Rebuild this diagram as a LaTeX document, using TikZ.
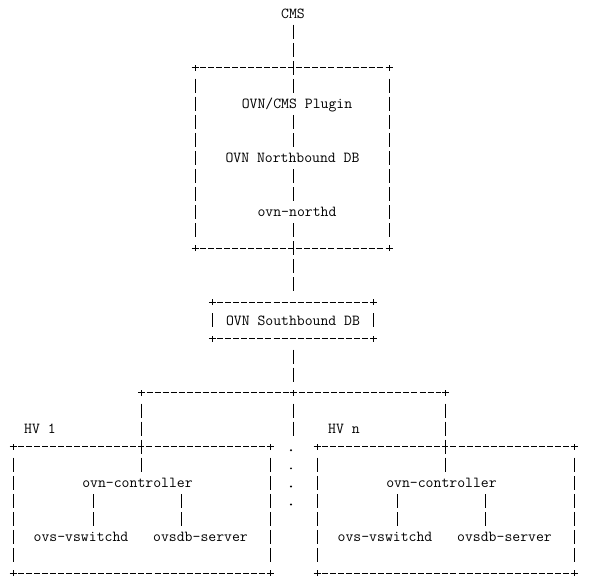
\documentclass[tikz,border=0pt]{standalone}
\usetikzlibrary{positioning}

\tikzset{
  txt/.style={font=\fontsize{15.3}{18}\selectfont\ttfamily, inner sep=0pt,
    text height=11pt, text depth=1.6pt, minimum height=18.05pt},
  hline/.style={line width=0.9pt, dash pattern=on 6pt off 2.03pt,
    shorten <=5pt, shorten >=5pt},
  vbar/.style={line width=0.9pt, dash pattern=on 14pt off 4.05pt, dash phase=16.05pt},
  vside/.style={vbar, shorten <=9.025pt, shorten >=9.025pt},
  crosspt/.pic={\draw[line width=0.9pt] (-3.5pt,0) -- (3.5pt,0) (0,-3pt) -- (0,3pt);}
}

% frame drawn with dashes, bars and plus corners
\newcommand{\asciibox}[2]{%
  \draw[hline] (#1) -- (#1 -| #2);
  \draw[hline] (#1 |- #2) -- (#2);
  \draw[vside] (#1) -- (#1 |- #2);
  \draw[vside] (#1 -| #2) -- (#2);
  \pic at (#1) {crosspt};
  \pic at (#1 -| #2) {crosspt};
  \pic at (#1 |- #2) {crosspt};
  \pic at (#2) {crosspt};
}

\begin{document}
\begin{tikzpicture}[x=1pt, y={(0pt,-18.05pt)}]
  \useasboundingbox (0,-0.748) rectangle (594,31.607);

  % central part
  \node[txt] (cms) at (293,0) {CMS};
  \node[txt] (plugin) at (297,5) {OVN/CMS Plugin};
  \node[txt] (nbdb) at (292.5,8) {OVN Northbound DB};
  \node[txt] (northd) at (297,11) {ovn-northd};
  \node[txt, minimum width=161pt, minimum height=36.1pt] (sb) at (293,17) {OVN Southbound DB};

  \coordinate (top-nw) at (195,3);
  \coordinate (top-se) at (389,13);
  \asciibox{top-nw}{top-se}
  \asciibox{sb.north west}{sb.south east}

  \draw[vbar] (cms.south) -- (cms.south |- plugin.north);
  \draw[vbar] (cms |- plugin.south) -- (cms |- nbdb.north);
  \draw[vbar] (cms |- nbdb.south) -- (cms |- northd.north);
  \draw[vbar, shorten >=9.025pt] (cms |- northd.south) -- (sb.north);

  % fork to the hypervisors
  \coordinate (fork) at (293,21);
  \coordinate (forkL) at (141.5,21);
  \coordinate (forkR) at (445.5,21);
  \coordinate (gap) at (293,23.5);
  \draw[vside] (sb.south) -- (fork);
  \draw[hline] (forkL) -- (forkR);
  \pic at (forkL) {crosspt};
  \pic at (fork) {crosspt};
  \pic at (forkR) {crosspt};
  \draw[vbar, shorten <=9.025pt] (fork) -- (gap);
  \foreach \k in {24,...,27}
    \fill (291,\k+0.2) circle (1.1pt);

  % hypervisors
  \foreach \i/\dx in {1/0, n/304} {
    \coordinate (hv\i-nw) at (13+\dx,24);
    \coordinate (hv\i-se) at (270+\dx,31);
    \node[txt, anchor=west] (hvlabel\i) at (24+\dx,23) {HV \i};
    \node[txt] (ctrl\i) at (137.5+\dx,26) {ovn-controller};
    \node[txt] (vsw\i) at (81+\dx,29) {ovs-vswitchd};
    \node[txt] (ovsdb\i) at (200.5+\dx,29) {ovsdb-server};
    \asciibox{hv\i-nw}{hv\i-se}
    \draw[vbar] ([xshift=12pt]vsw\i.north |- ctrl\i.south) -- ([xshift=12pt]vsw\i.north);
    \draw[vbar] ([xshift=-19pt]ovsdb\i.north |- ctrl\i.south) -- ([xshift=-19pt]ovsdb\i.north);
  }
  \draw[vbar, shorten <=9.025pt] (forkL) -- (forkL |- ctrl1.north);
  \draw[vbar, shorten <=9.025pt] (forkR) -- (forkR |- ctrln.north);
\end{tikzpicture}
\end{document}
